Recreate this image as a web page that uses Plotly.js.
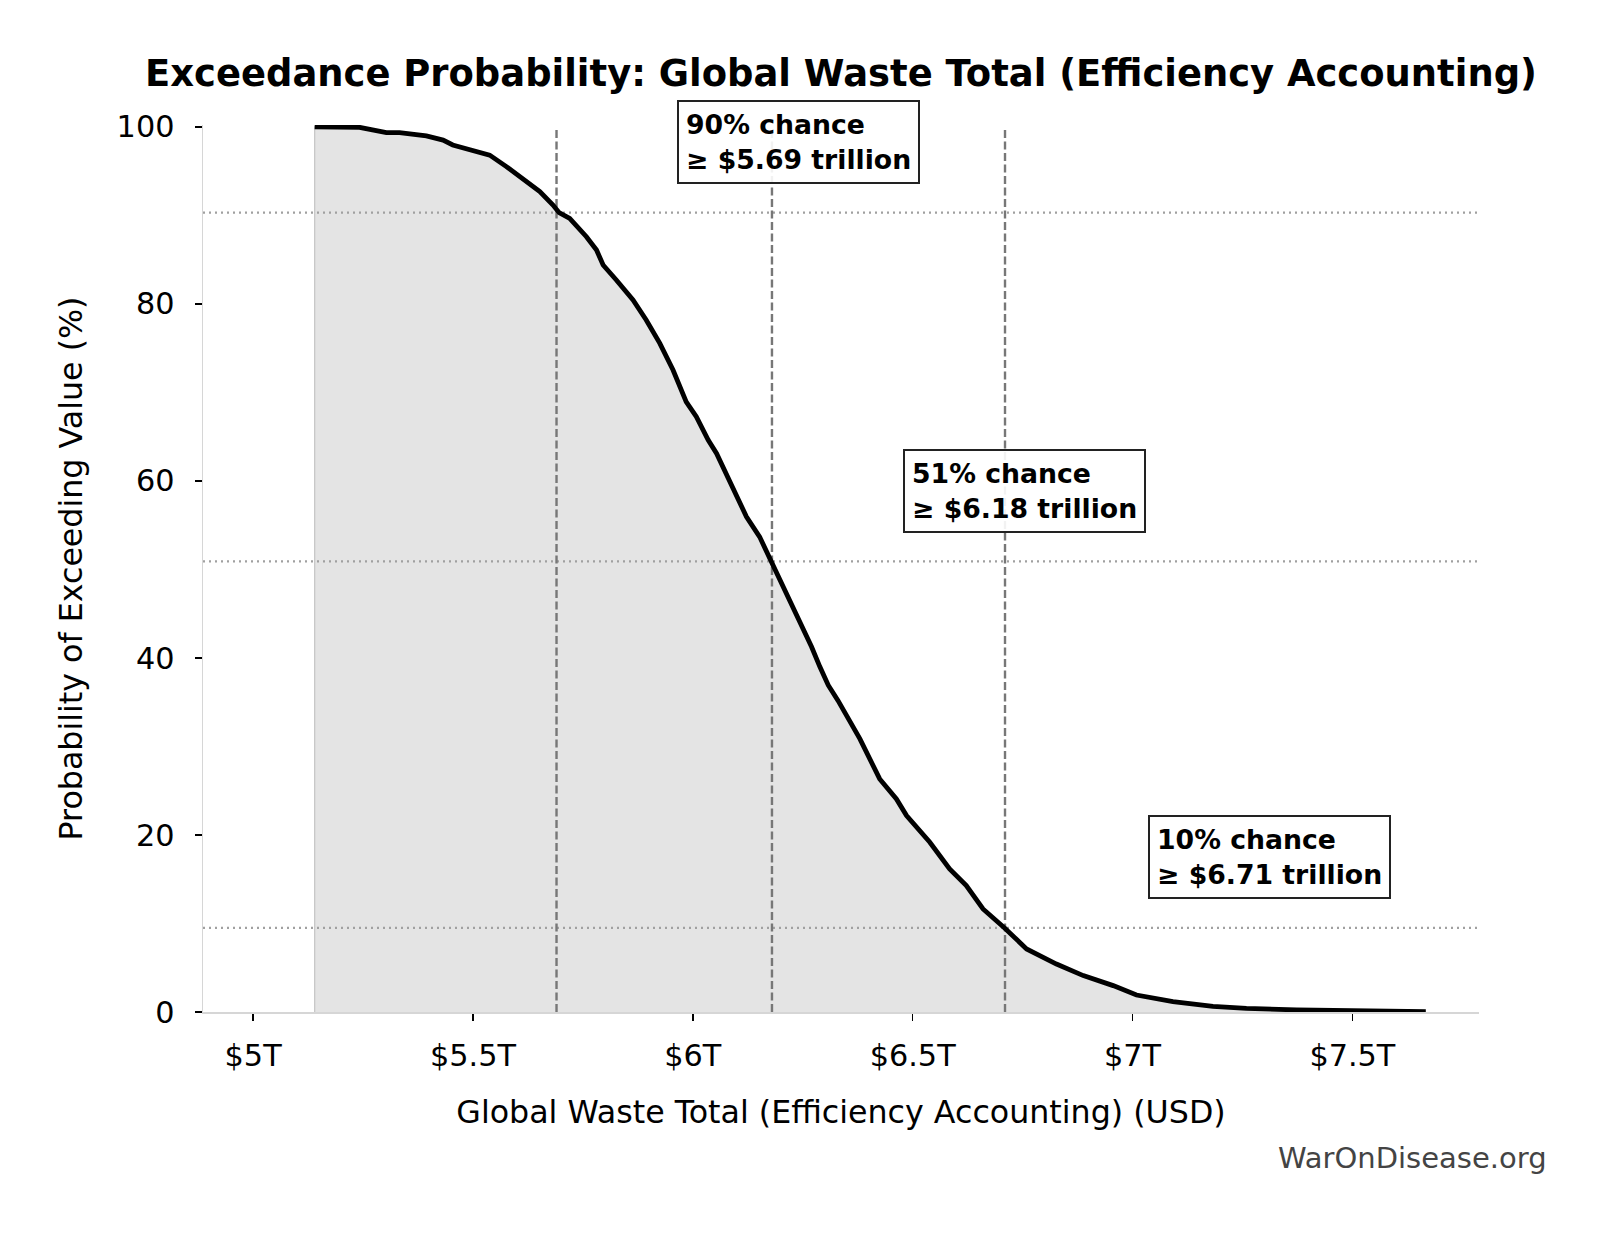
<!DOCTYPE html>
<html>
<head>
<meta charset="utf-8">
<script src="https://cdn.plot.ly/plotly-3.0.1.min.js"></script>
<style>
  html, body { margin: 0; padding: 0; background: #fff; }
  #chart { width: 1603px; height: 1233px; }
</style>
</head>
<body>
<div id="chart"></div>
<script>
// ---- Data ----
// Global waste total, trillions of USD
const valueT = [5.140, 5.242, 5.303, 5.333, 5.394, 5.432, 5.454, 5.500, 5.538, 5.576,
                5.606, 5.652, 5.682, 5.696, 5.720, 5.758, 5.781, 5.796, 5.826, 5.864,
                5.894, 5.925, 5.955, 5.985, 6.008, 6.035, 6.054, 6.076, 6.099, 6.122,
                6.152, 6.179, 6.198, 6.224, 6.247, 6.270, 6.289, 6.308, 6.330, 6.353,
                6.380, 6.425, 6.463, 6.486, 6.539, 6.584, 6.622, 6.660, 6.709, 6.759,
                6.827, 6.888, 6.956, 7.009, 7.092, 7.183, 7.259, 7.373, 7.449, 7.550,
                7.667];
// Probability of exceeding value, percent
const exceedPct = [100.0, 99.94, 99.33, 99.33, 98.96, 98.5, 97.94, 97.3, 96.8, 95.5,
                   94.36, 92.67, 91.16, 90.3, 89.66, 87.58, 86.08, 84.38, 82.69, 80.43,
                   78.17, 75.53, 72.52, 68.93, 67.24, 64.6, 63.1, 60.84, 58.58, 55.94,
                   53.68, 50.9, 48.78, 46.15, 43.89, 41.25, 38.99, 36.92, 35.2, 33.2,
                   30.85, 26.33, 24.07, 22.19, 19.18, 16.16, 14.28, 11.64, 9.5, 7.12,
                   5.42, 4.11, 2.98, 1.92, 1.18, 0.64, 0.42, 0.23, 0.16, 0.08,
                   0.03];
// Marked percentiles
const thresholdT = [5.69, 6.18, 6.71];
const thresholdPct = [90.3, 50.9, 9.5];
// Axis ticks
const xTickVals = [5, 5.5, 6, 6.5, 7, 7.5];
const xTickText = ['$5T', '$5.5T', '$6T', '$6.5T', '$7T', '$7.5T'];
const yTickVals = [0, 20, 40, 60, 80, 100];

// ---- Layout settings ----
const xRange = [4.886, 7.788];
const yRange = [0, 100.2];
const FONT = 'DejaVu Sans, Verdana, sans-serif';

// fill polygon (closed down to zero)
const fillX = [valueT[0]].concat(valueT, [valueT[valueT.length - 1]]);
const fillY = [0].concat(exceedPct, [0]);

const hx = [], hy = [], vx = [], vy = [];
thresholdPct.forEach(p => { hx.push(xRange[0], xRange[1], null); hy.push(p, p, null); });
thresholdT.forEach(t => { vx.push(t, t, null); vy.push(0, 100, null); });

const traces = [
  { type: 'scatter', mode: 'lines', x: fillX, y: fillY, fill: 'toself',
    fillcolor: '#e4e4e4', line: { color: '#c4c4c4', width: 1.2 },
    hoverinfo: 'skip', showlegend: false },
  { type: 'scatter', mode: 'lines', x: hx, y: hy,
    line: { color: '#a0a0a0', width: 2.2, dash: '2px,4px' },
    hoverinfo: 'skip', showlegend: false, connectgaps: false },
  { type: 'scatter', mode: 'lines', x: vx, y: vy,
    line: { color: '#777777', width: 2.4, dash: '8px,3.5px' },
    hoverinfo: 'skip', showlegend: false, connectgaps: false },
  { type: 'scatter', mode: 'lines', x: valueT, y: exceedPct,
    line: { color: '#000000', width: 4.8 },
    hoverinfo: 'skip', showlegend: false }
];

const annotations = thresholdT.map((t, i) => ({
  xref: 'x', yref: 'y',
  x: t * 1.05, y: thresholdPct[i] + 8,
  xanchor: 'left', yanchor: 'middle', xshift: -5,
  text: Math.round(thresholdPct[i]) + '% chance<br>≥ $' + t.toFixed(2) + ' trillion',
  showarrow: false, align: 'left',
  font: { family: FONT, size: 26.7, color: '#000', weight: 'bold' },
  bgcolor: 'rgba(255,255,255,0.9)', bordercolor: '#222222',
  borderwidth: 2, borderpad: 7
}));

annotations.push({
  xref: 'paper', yref: 'paper', x: 1.0546, y: -0.165,
  xanchor: 'right', yanchor: 'middle', showarrow: false,
  text: 'WarOnDisease.org',
  font: { family: FONT, size: 29, color: '#444444' }
});

const layout = {
  width: 1603, height: 1233,
  paper_bgcolor: '#ffffff', plot_bgcolor: '#ffffff',
  margin: { l: 203.4, r: 123.5, t: 125, b: 221.3, pad: 0 },
  showlegend: false,
  title: {
    text: 'Exceedance Probability: Global Waste Total (Efficiency Accounting)',
    x: 0.5, xref: 'paper', xanchor: 'center',
    y: 1 - 72.6 / 1233, yref: 'container', yanchor: 'middle',
    font: { family: FONT, size: 36.9, color: '#000', weight: 'bold' }
  },
  xaxis: {
    range: xRange, autorange: false,
    tickmode: 'array', tickvals: xTickVals, ticktext: xTickText,
    ticks: 'outside', ticklen: 7, tickwidth: 1.6, tickcolor: '#000',
    ticklabelstandoff: 9,
    showgrid: false, zeroline: false,
    showline: true, linecolor: '#d6d6d6', linewidth: 1.5,
    tickfont: { family: FONT, size: 30.3, color: '#000' },
    title: { text: 'Global Waste Total (Efficiency Accounting) (USD)', standoff: 29,
             font: { family: FONT, size: 31.7, color: '#000' } },
    fixedrange: true
  },
  yaxis: {
    range: yRange, autorange: false,
    tickmode: 'array', tickvals: yTickVals,
    ticks: 'outside', ticklen: 7, tickwidth: 1.6, tickcolor: '#000',
    ticklabelstandoff: 14,
    showgrid: false, zeroline: false,
    showline: true, linecolor: '#d6d6d6', linewidth: 1.5,
    tickfont: { family: FONT, size: 30.3, color: '#000' },
    title: { text: 'Probability of Exceeding Value (%)', standoff: 24,
             font: { family: FONT, size: 31.7, color: '#000' } },
    fixedrange: true
  },
  annotations: annotations
};

Plotly.newPlot('chart', traces, layout, { displayModeBar: false, staticPlot: true });
</script>
</body>
</html>
